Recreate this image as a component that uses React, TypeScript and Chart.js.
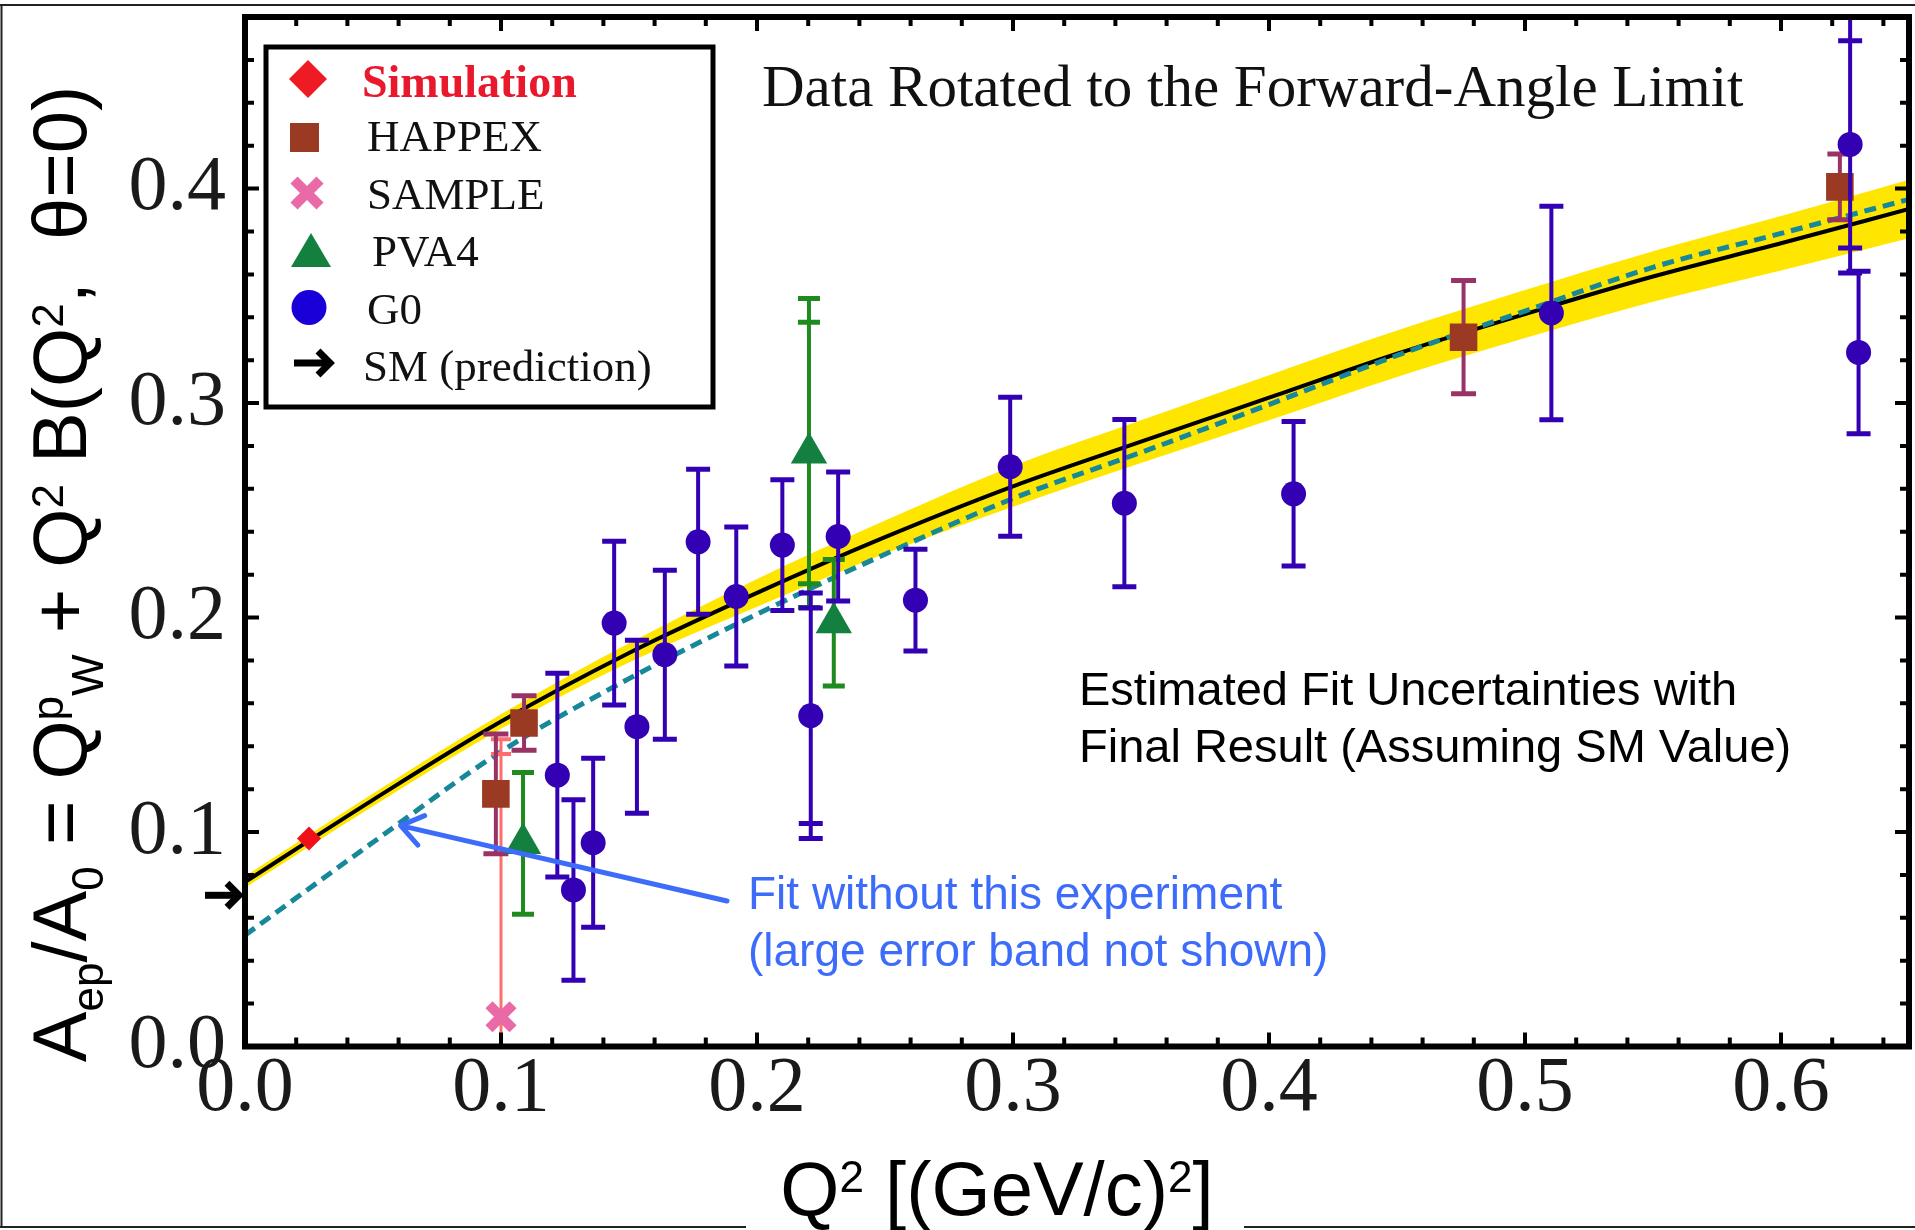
import React, { useEffect, useRef } from 'react';
import { Chart, registerables } from 'chart.js';

Chart.register(...registerables);

const SERIF = "'Liberation Serif', 'Times New Roman', serif";
const SANS = "'Liberation Sans', Arial, sans-serif";

// ---------- axes ----------
const X_MIN = 0;
const X_MAX = 0.65;
const Y_MIN = 0;
const Y_MAX = 0.48;
const X_TICK_LABELS = [0, 0.1, 0.2, 0.3, 0.4, 0.5, 0.6];
const Y_TICK_LABELS = [0, 0.1, 0.2, 0.3, 0.4];
const X_TICK_MARKS = [0.02, 0.04, 0.06, 0.08, 0.1, 0.12, 0.14, 0.16, 0.18, 0.2, 0.22, 0.24, 0.26, 0.28, 0.3, 0.32, 0.34, 0.36, 0.38, 0.4, 0.42, 0.44, 0.46, 0.48, 0.5, 0.52, 0.54, 0.56, 0.58, 0.6, 0.62, 0.64];
const Y_TICK_MARKS = [0.02, 0.04, 0.06, 0.08, 0.1, 0.12, 0.14, 0.16, 0.18, 0.2, 0.22, 0.24, 0.26, 0.28, 0.3, 0.32, 0.34, 0.36, 0.38, 0.4, 0.42, 0.44, 0.46];

// ---------- data ----------
const SIM_X = [0.025];
const SIM_Y = [0.097];

const HAPPEX_X = [0.098, 0.109, 0.476, 0.623];
const HAPPEX_Y = [0.1178, 0.1508, 0.3307, 0.4008];
const HAPPEX_ERR = [0.0279, 0.0127, 0.0264, 0.0153];

const SAMPLE_X = [0.1];
const SAMPLE_Y = [0.0139];
const SAMPLE_ERR = [0.1294];
const SAMPLE_ERR_STAT = [0.1225];

const PVA4_X = [0.1086, 0.2203, 0.23];
const PVA4_Y = [0.0947, 0.2767, 0.1976];
const PVA4_ERR = [0.033, 0.072, 0.0295];
const PVA4_ERR_STAT = [0, 0.061, 0];

const G0_X = [0.122, 0.1283, 0.136, 0.1442, 0.1531, 0.164, 0.177, 0.1919, 0.2099, 0.221, 0.2317, 0.2619, 0.2989, 0.3435, 0.4096, 0.5103, 0.627, 0.6303];
const G0_Y = [0.1265, 0.073, 0.095, 0.1974, 0.1491, 0.1827, 0.2353, 0.2098, 0.2338, 0.1542, 0.2378, 0.2081, 0.2703, 0.2533, 0.2577, 0.342, 0.4206, 0.3236];
const G0_ERR = [0.0475, 0.0421, 0.0394, 0.0382, 0.0403, 0.0394, 0.0338, 0.0324, 0.0305, 0.0572, 0.0301, 0.0237, 0.0324, 0.039, 0.0337, 0.0498, 0.06, 0.0379];
const G0_ERR_STAT = [0, 0, 0, 0, 0, 0, 0, 0, 0, 0.0502, 0, 0, 0, 0, 0, 0, 0.0483, 0];

const SM_VALUE = 0.0705;

// fit curves
const FIT_X = [0, 0.05, 0.1, 0.15, 0.2, 0.25, 0.3, 0.35, 0.4, 0.45, 0.5, 0.55, 0.6, 0.65];
const FIT_Y = [0.0767, 0.115, 0.1515, 0.1835, 0.2115, 0.2375, 0.2612, 0.282, 0.3025, 0.323, 0.3415, 0.359, 0.3745, 0.3905];
const FIT_HI = [0.0794, 0.1180, 0.1549, 0.188, 0.218, 0.2452, 0.2707, 0.292, 0.313, 0.3338, 0.3527, 0.3708, 0.3872, 0.4041];
const FIT_LO = [0.0740, 0.1120, 0.1481, 0.179, 0.205, 0.2298, 0.2517, 0.272, 0.292, 0.3122, 0.3303, 0.3472, 0.3618, 0.3769];
const NOEXP_Y = [0.0519, 0.0952, 0.1375, 0.1715, 0.2016, 0.2295, 0.2555, 0.277, 0.2993, 0.3222, 0.3429, 0.3633, 0.3791, 0.395];

// annotation anchor on the dashed curve
const ARROW_TIP = { x: 0.0608, y: 0.103 };

type Run = { t: string; k?: 'sup' | 'sub' };
const Y_TITLE: Run[] = [
  { t: 'A' }, { t: 'ep', k: 'sub' }, { t: '/A' }, { t: '0', k: 'sub' }, { t: ' = Q' },
  { t: 'p', k: 'sup' }, { t: 'W', k: 'sub' }, { t: ' + Q' }, { t: '2', k: 'sup' },
  { t: ' B(Q' }, { t: '2', k: 'sup' }, { t: ',  \u03b8=0)' },
];
const X_TITLE: Run[] = [{ t: 'Q' }, { t: '2', k: 'sup' }, { t: ' [(GeV/c)' }, { t: '2', k: 'sup' }, { t: ']' }];

const LEGEND_LABELS = ['Simulation', 'HAPPEX', 'SAMPLE', 'PVA4', 'G0', 'SM (prediction)'];
const TOP_NOTE = 'Data Rotated to the Forward-Angle Limit';
const FIT_NOTE = ['Estimated Fit Uncertainties with', 'Final Result (Assuming SM Value)'];
const BLUE_NOTE = ['Fit without this experiment', '(large error band not shown)'];

const pts = (xs: number[], ys: number[]) => xs.map((x, i) => ({ x, y: ys[i] }));

function richWidth(ctx: CanvasRenderingContext2D, runs: Run[], size: number, family: string) {
  let w = 0;
  for (const r of runs) {
    ctx.font = `${r.k ? size * 0.58 : size}px ${family}`;
    w += ctx.measureText(r.t).width;
  }
  return w;
}
function drawRich(ctx: CanvasRenderingContext2D, runs: Run[], x: number, y: number, size: number, family: string) {
  let cx = x;
  for (const r of runs) {
    const s = r.k ? size * 0.58 : size;
    ctx.font = `${s}px ${family}`;
    const dy = r.k === 'sup' ? -size * 0.3 : r.k === 'sub' ? size * 0.22 : 0;
    ctx.fillText(r.t, cx, y + dy);
    cx += ctx.measureText(r.t).width;
  }
}

function blackArrow(ctx: CanvasRenderingContext2D, x0: number, x1: number, y: number, head: number, lw: number) {
  ctx.save();
  ctx.strokeStyle = '#000';
  ctx.lineWidth = lw;
  ctx.lineJoin = 'miter';
  ctx.beginPath();
  ctx.moveTo(x0, y);
  ctx.lineTo(x1 - 3, y);
  ctx.stroke();
  ctx.beginPath();
  ctx.moveTo(x1 - head, y - head);
  ctx.lineTo(x1, y);
  ctx.lineTo(x1 - head, y + head);
  ctx.stroke();
  ctx.restore();
}

const errorBars = {
  id: 'errorBars',
  beforeDatasetDraw(chart: any, args: any) {
    const ds: any = chart.data.datasets[args.index];
    if (!ds.errTotal) return;
    const { ctx, chartArea: a } = chart;
    const ys = chart.scales.y;
    ctx.save();
    ctx.beginPath();
    ctx.rect(a.left, a.top, a.right - a.left, a.bottom - a.top);
    ctx.clip();
    ctx.strokeStyle = ds.errColor;
    args.meta.data.forEach((el: any, i: number) => {
      const v = ds.data[i].y;
      const px = el.x;
      const e = ds.errTotal[i];
      const t = ys.getPixelForValue(v + e);
      const b = ys.getPixelForValue(v - e);
      ctx.lineWidth = ds.errWidth;
      ctx.beginPath();
      ctx.moveTo(px, t);
      ctx.lineTo(px, b);
      ctx.stroke();
      const caps = [t, b];
      const s = ds.errStat ? ds.errStat[i] : 0;
      if (s) caps.push(ys.getPixelForValue(v + s), ys.getPixelForValue(v - s));
      ctx.lineWidth = ds.capWidth;
      for (const cy of caps) {
        ctx.beginPath();
        ctx.moveTo(px - ds.capHalf, cy);
        ctx.lineTo(px + ds.capHalf, cy);
        ctx.stroke();
      }
    });
    ctx.restore();
  },
};

const decorations = {
  id: 'decorations',
  afterDraw(chart: any) {
    const { ctx, chartArea: a, scales } = chart;
    const xs = scales.x;
    const ys = scales.y;
    const isMajor = (v: number) => Math.abs(v * 10 - Math.round(v * 10)) < 1e-6;
    ctx.save();

    // outer figure frame
    ctx.strokeStyle = '#222';
    ctx.lineWidth = 2;
    ctx.beginPath();
    ctx.moveTo(0, 5); ctx.lineTo(1915, 5);
    ctx.moveTo(1.5, 5); ctx.lineTo(1.5, 1227);
    ctx.moveTo(0, 1227); ctx.lineTo(746, 1227);
    ctx.moveTo(1244, 1227); ctx.lineTo(1915, 1227);
    ctx.stroke();

    // ticks (inward, all four sides)
    ctx.strokeStyle = '#000';
    ctx.lineWidth = 4;
    ctx.beginPath();
    for (const v of X_TICK_MARKS) {
      const px = xs.getPixelForValue(v);
      const L = isMajor(v) ? 14 : 9;
      ctx.moveTo(px, a.bottom); ctx.lineTo(px, a.bottom - L);
      ctx.moveTo(px, a.top); ctx.lineTo(px, a.top + L);
    }
    for (const v of Y_TICK_MARKS) {
      const py = ys.getPixelForValue(v);
      const L = isMajor(v) ? 14 : 9;
      ctx.moveTo(a.left, py); ctx.lineTo(a.left + L, py);
      ctx.moveTo(a.right, py); ctx.lineTo(a.right - L, py);
    }
    ctx.stroke();
    ctx.lineWidth = 6;
    ctx.strokeRect(a.left, a.top, a.right - a.left, a.bottom - a.top);

    // axis titles
    ctx.fillStyle = '#000';
    ctx.textBaseline = 'alphabetic';
    ctx.textAlign = 'left';
    const tSize = 76;
    const xw = richWidth(ctx, X_TITLE, tSize, SANS);
    drawRich(ctx, X_TITLE, 997 - xw / 2, 1215, tSize, SANS);
    const yw = richWidth(ctx, Y_TITLE, tSize, SANS);
    ctx.save();
    ctx.translate(86, 574 + yw / 2);
    ctx.rotate(-Math.PI / 2);
    drawRich(ctx, Y_TITLE, 0, 0, tSize, SANS);
    ctx.restore();

    // SM arrow at the y axis
    blackArrow(ctx, a.left - 40, a.left - 6, ys.getPixelForValue(SM_VALUE), 12, 7);

    // top note
    ctx.fillStyle = '#111';
    ctx.font = `59px ${SERIF}`;
    ctx.fillText(TOP_NOTE, 762, 106);

    // fit note
    ctx.fillStyle = '#000';
    ctx.font = `47px ${SANS}`;
    ctx.fillText(FIT_NOTE[0], 1079, 705);
    ctx.fillText(FIT_NOTE[1], 1079, 762);

    // blue note + arrow
    const blue = '#3d6cfb';
    ctx.fillStyle = blue;
    ctx.font = `46px ${SANS}`;
    ctx.fillText(BLUE_NOTE[0], 748, 909);
    ctx.fillText(BLUE_NOTE[1], 748, 966);
    const tipX = xs.getPixelForValue(ARROW_TIP.x);
    const tipY = ys.getPixelForValue(ARROW_TIP.y);
    const tailX = 727, tailY = 901;
    const ang = Math.atan2(tipY - tailY, tipX - tailX);
    ctx.strokeStyle = blue;
    ctx.lineWidth = 5;
    ctx.lineCap = 'round';
    ctx.lineJoin = 'round';
    ctx.beginPath();
    ctx.moveTo(tailX, tailY);
    ctx.lineTo(tipX, tipY);
    const hl = 26, ha = 0.62;
    ctx.moveTo(tipX - hl * Math.cos(ang - ha), tipY - hl * Math.sin(ang - ha));
    ctx.lineTo(tipX, tipY);
    ctx.lineTo(tipX - hl * Math.cos(ang + ha), tipY - hl * Math.sin(ang + ha));
    ctx.stroke();
    ctx.lineCap = 'butt';
    ctx.lineJoin = 'miter';

    // legend box
    ctx.fillStyle = '#fff';
    ctx.fillRect(266, 47, 447, 360);
    ctx.strokeStyle = '#000';
    ctx.lineWidth = 5;
    ctx.strokeRect(266, 47, 447, 360);

    // legend markers
    ctx.fillStyle = '#ee1b24';
    ctx.beginPath();
    ctx.moveTo(308, 60); ctx.lineTo(327, 79); ctx.lineTo(308, 98); ctx.lineTo(289, 79);
    ctx.closePath(); ctx.fill();
    ctx.fillStyle = '#9b3a22';
    ctx.fillRect(290, 123, 29, 29);
    ctx.strokeStyle = '#e96aa6';
    ctx.lineWidth = 10;
    ctx.beginPath();
    ctx.moveTo(294, 180); ctx.lineTo(320, 206);
    ctx.moveTo(320, 180); ctx.lineTo(294, 206);
    ctx.stroke();
    ctx.fillStyle = '#14803f';
    ctx.beginPath();
    ctx.moveTo(311, 233); ctx.lineTo(331, 267); ctx.lineTo(291, 267);
    ctx.closePath(); ctx.fill();
    ctx.fillStyle = '#1a00d8';
    ctx.beginPath();
    ctx.ellipse(309, 307.5, 17.5, 17.5, 0, 0, Math.PI * 2);
    ctx.fill();
    blackArrow(ctx, 294, 330, 363, 12, 7);

    // legend text
    ctx.fillStyle = '#e8192c';
    ctx.font = `bold 46px ${SERIF}`;
    ctx.fillText(LEGEND_LABELS[0], 362, 97);
    ctx.fillStyle = '#111';
    ctx.font = `45px ${SERIF}`;
    ctx.fillText(LEGEND_LABELS[1], 367, 151);
    ctx.fillText(LEGEND_LABELS[2], 367, 209);
    ctx.fillText(LEGEND_LABELS[3], 372, 266);
    ctx.fillText(LEGEND_LABELS[4], 367, 324);
    ctx.fillText(LEGEND_LABELS[5], 363, 381);

    ctx.restore();
  },
};

const zeroPad = (s: any) => {
  s.paddingTop = 0;
  s.paddingBottom = 0;
  s.paddingLeft = 0;
  s.paddingRight = 0;
};

export default function App() {
  const ref = useRef<HTMLCanvasElement>(null);

  useEffect(() => {
    if (!ref.current) return;
    const datasets: any[] = [
      {
        type: 'scatter', label: 'Simulation', data: pts(SIM_X, SIM_Y), order: 1,
        pointStyle: 'rectRot', pointRadius: 12, backgroundColor: '#f0101a', borderColor: '#f0101a', borderWidth: 0,
      },
      {
        type: 'scatter', label: 'G0', data: pts(G0_X, G0_Y), order: 2,
        pointStyle: 'circle', pointRadius: 12.5, backgroundColor: '#3300b4', borderColor: '#3300b4', borderWidth: 0,
        errTotal: G0_ERR, errStat: G0_ERR_STAT, errColor: '#3300b4', errWidth: 4, capWidth: 5, capHalf: 12,
      },
      {
        type: 'scatter', label: 'PVA4', data: pts(PVA4_X, PVA4_Y), order: 3,
        pointStyle: 'triangle', pointRadius: 21, backgroundColor: '#14803f', borderColor: '#14803f', borderWidth: 0,
        errTotal: PVA4_ERR, errStat: PVA4_ERR_STAT, errColor: '#1f8b1f', errWidth: 4, capWidth: 5, capHalf: 11,
      },
      {
        type: 'scatter', label: 'HAPPEX', data: pts(HAPPEX_X, HAPPEX_Y), order: 4,
        pointStyle: 'rect', pointRadius: 19.5, backgroundColor: '#9b3a22', borderColor: '#9b3a22', borderWidth: 0,
        errTotal: HAPPEX_ERR, errColor: '#993366', errWidth: 4, capWidth: 5, capHalf: 12.5,
      },
      {
        type: 'scatter', label: 'SAMPLE', data: pts(SAMPLE_X, SAMPLE_Y), order: 5,
        pointStyle: 'crossRot', pointRadius: 17, borderColor: '#e96aa6', backgroundColor: '#e96aa6', borderWidth: 10,
        errTotal: SAMPLE_ERR, errStat: SAMPLE_ERR_STAT, errColor: '#ff6e6e', errWidth: 3, capWidth: 4, capHalf: 10,
      },
      {
        type: 'line', label: 'noexp', data: pts(FIT_X, NOEXP_Y), order: 8,
        borderColor: '#17889a', borderWidth: 5, borderDash: [12, 7], pointRadius: 0, fill: false,
        cubicInterpolationMode: 'monotone',
      },
      {
        type: 'line', label: 'fit', data: pts(FIT_X, FIT_Y), order: 9,
        borderColor: '#000', borderWidth: 4, pointRadius: 0, fill: false, cubicInterpolationMode: 'monotone',
      },
      {
        type: 'line', label: 'bandHi', data: pts(FIT_X, FIT_HI), order: 11,
        borderWidth: 0, borderColor: 'rgba(0,0,0,0)', pointRadius: 0, fill: false, cubicInterpolationMode: 'monotone',
      },
      {
        type: 'line', label: 'bandLo', data: pts(FIT_X, FIT_LO), order: 10,
        borderWidth: 0, borderColor: 'rgba(0,0,0,0)', pointRadius: 0, fill: '-1', backgroundColor: '#ffe600',
        cubicInterpolationMode: 'monotone',
      },
    ];

    const tickFont = { family: SERIF, size: 78, lineHeight: 1 };
    const chart = new Chart(ref.current, {
      type: 'scatter',
      data: { datasets },
      plugins: [errorBars, decorations],
      options: {
        animation: false,
        responsive: false,
        devicePixelRatio: 1,
        events: [],
        layout: { autoPadding: false, padding: { top: 17, right: 6, left: 0, bottom: 0 } },
        plugins: { legend: { display: false }, tooltip: { enabled: false } },
        scales: {
          x: {
            type: 'linear', min: X_MIN, max: X_MAX,
            grid: { display: false, drawTicks: false },
            border: { display: false },
            ticks: { font: tickFont, color: '#1a1a1a', padding: 4, maxRotation: 0, autoSkip: false, callback: (v: any) => Number(v).toFixed(1) },
            afterBuildTicks: (s: any) => { s.ticks = X_TICK_LABELS.map((value) => ({ value })); },
            afterFit: (s: any) => { s.height = 183.5; zeroPad(s); },
          },
          y: {
            type: 'linear', min: Y_MIN, max: Y_MAX,
            grid: { display: false, drawTicks: false },
            border: { display: false },
            ticks: { font: tickFont, color: '#1a1a1a', padding: 19, autoSkip: false, callback: (v: any) => Number(v).toFixed(1) },
            afterBuildTicks: (s: any) => { s.ticks = Y_TICK_LABELS.map((value) => ({ value })); },
            afterFit: (s: any) => { s.width = 245; zeroPad(s); },
          },
        },
      } as any,
    });
    return () => chart.destroy();
  }, []);

  return (
    <div style={{ position: 'absolute', left: 0, top: 0, width: 1915, height: 1230, background: '#fff' }}>
      <canvas ref={ref} width={1915} height={1230} style={{ display: 'block', width: 1915, height: 1230 }} />
    </div>
  );
}
